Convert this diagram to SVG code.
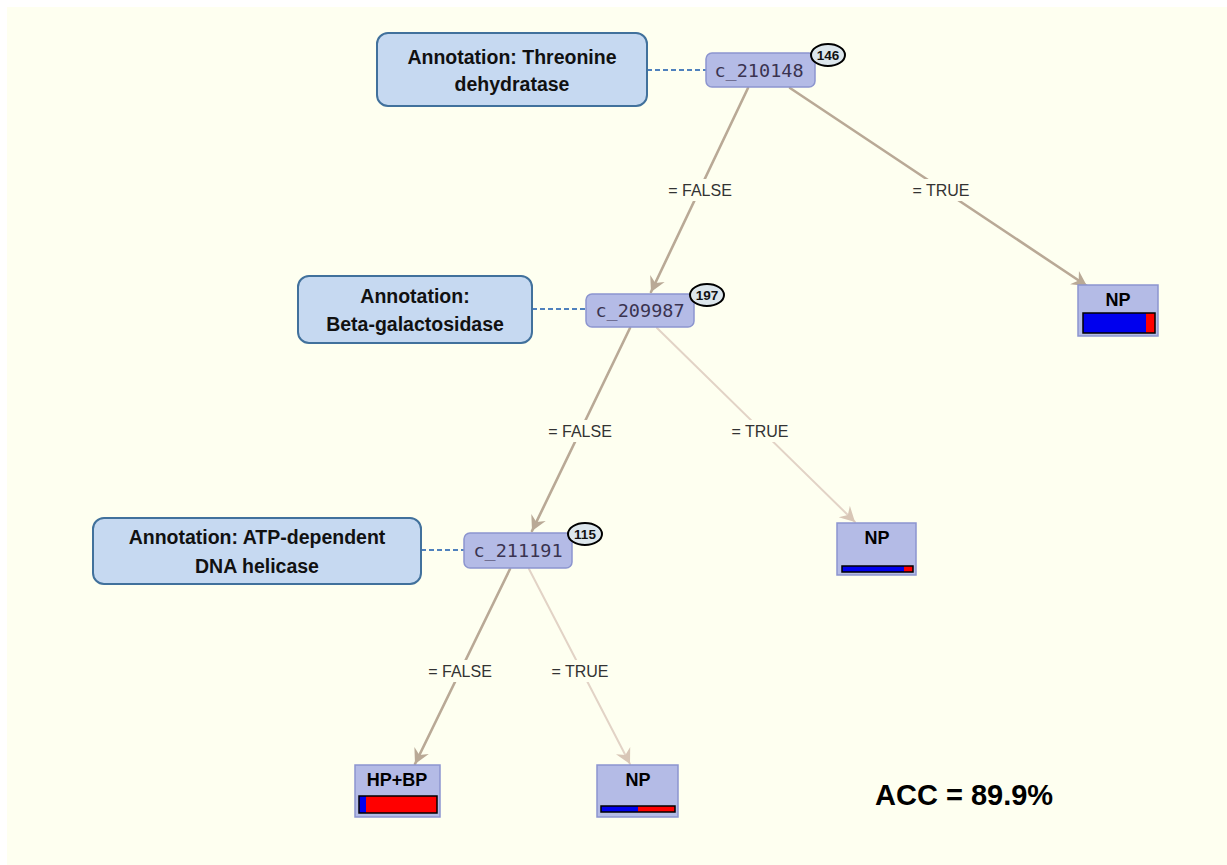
<svg xmlns="http://www.w3.org/2000/svg" width="1227" height="865" viewBox="0 0 1227 865">
  <style>
    .ann rect { fill: #C6D9F1; stroke: #41719C; stroke-width: 2; }
    .ann text { font-family: "Liberation Sans", Arial, sans-serif; font-weight: bold; font-size: 19.5px; fill: #111; text-anchor: middle; }
    .split rect { fill: #B4BBE6; stroke: #8C95CF; stroke-width: 1.5; }
    .split text.id { font-family: "DejaVu Sans Mono", "Liberation Mono", monospace; font-size: 18.5px; fill: #3a3350; text-anchor: middle; }
    .badge ellipse { fill: #DCE6EC; stroke: #000; stroke-width: 2; }
    .badge text { font-family: "Liberation Sans", Arial, sans-serif; font-weight: bold; font-size: 13.5px; fill: #111; text-anchor: middle; }
    .leaf rect.box { fill: #B4BBE6; stroke: #8C95CF; stroke-width: 1.5; }
    .leaf text { font-family: "Liberation Sans", Arial, sans-serif; font-weight: bold; font-size: 18px; fill: #000; text-anchor: middle; }
    .bar { stroke: #000; stroke-width: 1.5; fill: none; }
    .blue { fill: #0000EE; }
    .red { fill: #FF0000; }
    .edge { fill: none; stroke-linecap: round; }
    .strong { stroke: #B9A996; stroke-width: 2.6; marker-end: url(#arrowStrong); }
    .weak { stroke: #E2D3C6; stroke-width: 2; marker-end: url(#arrowWeak); }
    .dash { stroke: #4F81BD; stroke-width: 1.8; stroke-dasharray: 5 3; }
    .lbl-bg { fill: #FEFFF0; }
    .lbl { font-family: "Liberation Sans", Arial, sans-serif; font-size: 16px; fill: #333; text-anchor: middle; }
    .acc { font-family: "Liberation Sans", Arial, sans-serif; font-weight: bold; font-size: 29px; fill: #000; }
  </style>
  <defs>
    <marker id="arrowStrong" viewBox="-16 -9 18 18" refX="0" refY="0" markerWidth="18" markerHeight="18" markerUnits="userSpaceOnUse" orient="auto">
      <path d="M0,0 L-15,-8 L-10,0 L-15,8 Z" fill="#B9A996"/>
    </marker>
    <marker id="arrowWeak" viewBox="-16 -9 18 18" refX="0" refY="0" markerWidth="18" markerHeight="18" markerUnits="userSpaceOnUse" orient="auto">
      <path d="M0,0 L-15,-8 L-10,0 L-15,8 Z" fill="#D8C6B6"/>
    </marker>
  </defs>

  <!-- canvas -->
  <rect x="0" y="0" width="1227" height="865" fill="#FFFFFF"/>
  <rect x="7" y="7" width="1220" height="858" fill="#FEFFF0"/>

  <!-- connectors -->
  <g id="connectors">
    <line class="dash" x1="647" y1="70" x2="706" y2="70"/>
    <line class="dash" x1="532" y1="309" x2="586" y2="309"/>
    <line class="dash" x1="421" y1="550" x2="464" y2="550"/>

    <line class="edge strong" x1="748" y1="88" x2="651" y2="292"/>
    <line class="edge strong" x1="790" y1="88" x2="1087" y2="286"/>
    <line class="edge strong" x1="630" y1="328" x2="532" y2="531"/>
    <line class="edge weak" x1="657" y1="328" x2="855" y2="522"/>
    <line class="edge strong" x1="510" y1="569" x2="415" y2="764"/>
    <line class="edge weak" x1="529" y1="569" x2="630" y2="764"/>

    <rect class="lbl-bg" x="662" y="179" width="76" height="22"/>
    <text class="lbl" x="700" y="196">= FALSE</text>
    <rect class="lbl-bg" x="907" y="179" width="68" height="22"/>
    <text class="lbl" x="941" y="196">= TRUE</text>
    <rect class="lbl-bg" x="542" y="420" width="76" height="22"/>
    <text class="lbl" x="580" y="437">= FALSE</text>
    <rect class="lbl-bg" x="726" y="420" width="68" height="22"/>
    <text class="lbl" x="760" y="437">= TRUE</text>
    <rect class="lbl-bg" x="422" y="660" width="76" height="22"/>
    <text class="lbl" x="460" y="677">= FALSE</text>
    <rect class="lbl-bg" x="546" y="660" width="68" height="22"/>
    <text class="lbl" x="580" y="677">= TRUE</text>
  </g>

  <!-- annotations -->
  <g id="ann-threonine" class="ann">
    <rect x="377" y="33" width="270" height="73" rx="11"/>
    <text x="512" y="64">Annotation: Threonine</text>
    <text x="512" y="91">dehydratase</text>
  </g>
  <g id="ann-betagal" class="ann">
    <rect x="298" y="276" width="234" height="67" rx="11"/>
    <text x="415" y="303">Annotation:</text>
    <text x="415" y="331">Beta-galactosidase</text>
  </g>
  <g id="ann-helicase" class="ann">
    <rect x="93" y="518" width="328" height="66" rx="11"/>
    <text x="257" y="544">Annotation: ATP-dependent</text>
    <text x="257" y="573">DNA helicase</text>
  </g>

  <!-- split nodes -->
  <g id="node-c210148" class="split">
    <rect x="706" y="53" width="109" height="34" rx="6"/>
    <text class="id" x="759" y="77">c_210148</text>
    <g class="badge">
      <ellipse cx="828" cy="55" rx="17" ry="11"/>
      <text x="828" y="60">146</text>
    </g>
  </g>
  <g id="node-c209987" class="split">
    <rect x="586" y="294" width="108" height="33" rx="6"/>
    <text class="id" x="640" y="317">c_209987</text>
    <g class="badge">
      <ellipse cx="707" cy="295" rx="17" ry="11"/>
      <text x="707" y="300">197</text>
    </g>
  </g>
  <g id="node-c211191" class="split">
    <rect x="464" y="533" width="108" height="35" rx="6"/>
    <text class="id" x="518" y="557">c_211191</text>
    <g class="badge">
      <ellipse cx="585" cy="534" rx="17" ry="11"/>
      <text x="585" y="539">115</text>
    </g>
  </g>

  <!-- leaves -->
  <g id="leaf-np-1" class="leaf">
    <rect class="box" x="1078" y="285" width="80" height="51"/>
    <text x="1118" y="306">NP</text>
    <rect class="blue" x="1083" y="313" width="63" height="20"/>
    <rect class="red" x="1146" y="313" width="9" height="20"/>
    <rect class="bar" x="1083" y="313" width="72" height="20"/>
  </g>
  <g id="leaf-np-2" class="leaf">
    <rect class="box" x="837" y="523" width="79" height="52"/>
    <text x="877" y="544">NP</text>
    <rect class="blue" x="842" y="566" width="62" height="6"/>
    <rect class="red" x="904" y="566" width="9" height="6"/>
    <rect class="bar" x="842" y="566" width="71" height="6"/>
  </g>
  <g id="leaf-hpbp" class="leaf">
    <rect class="box" x="355" y="765" width="85" height="52"/>
    <text x="397" y="786">HP+BP</text>
    <rect class="blue" x="359" y="796" width="7" height="17"/>
    <rect class="red" x="366" y="796" width="71" height="17"/>
    <rect class="bar" x="359" y="796" width="78" height="17"/>
  </g>
  <g id="leaf-np-3" class="leaf">
    <rect class="box" x="597" y="765" width="81" height="52"/>
    <text x="638" y="786">NP</text>
    <rect class="blue" x="601" y="806" width="37" height="6"/>
    <rect class="red" x="638" y="806" width="37" height="6"/>
    <rect class="bar" x="601" y="806" width="74" height="6"/>
  </g>

  <text class="acc" x="875" y="805">ACC = 89.9%</text>
</svg>
